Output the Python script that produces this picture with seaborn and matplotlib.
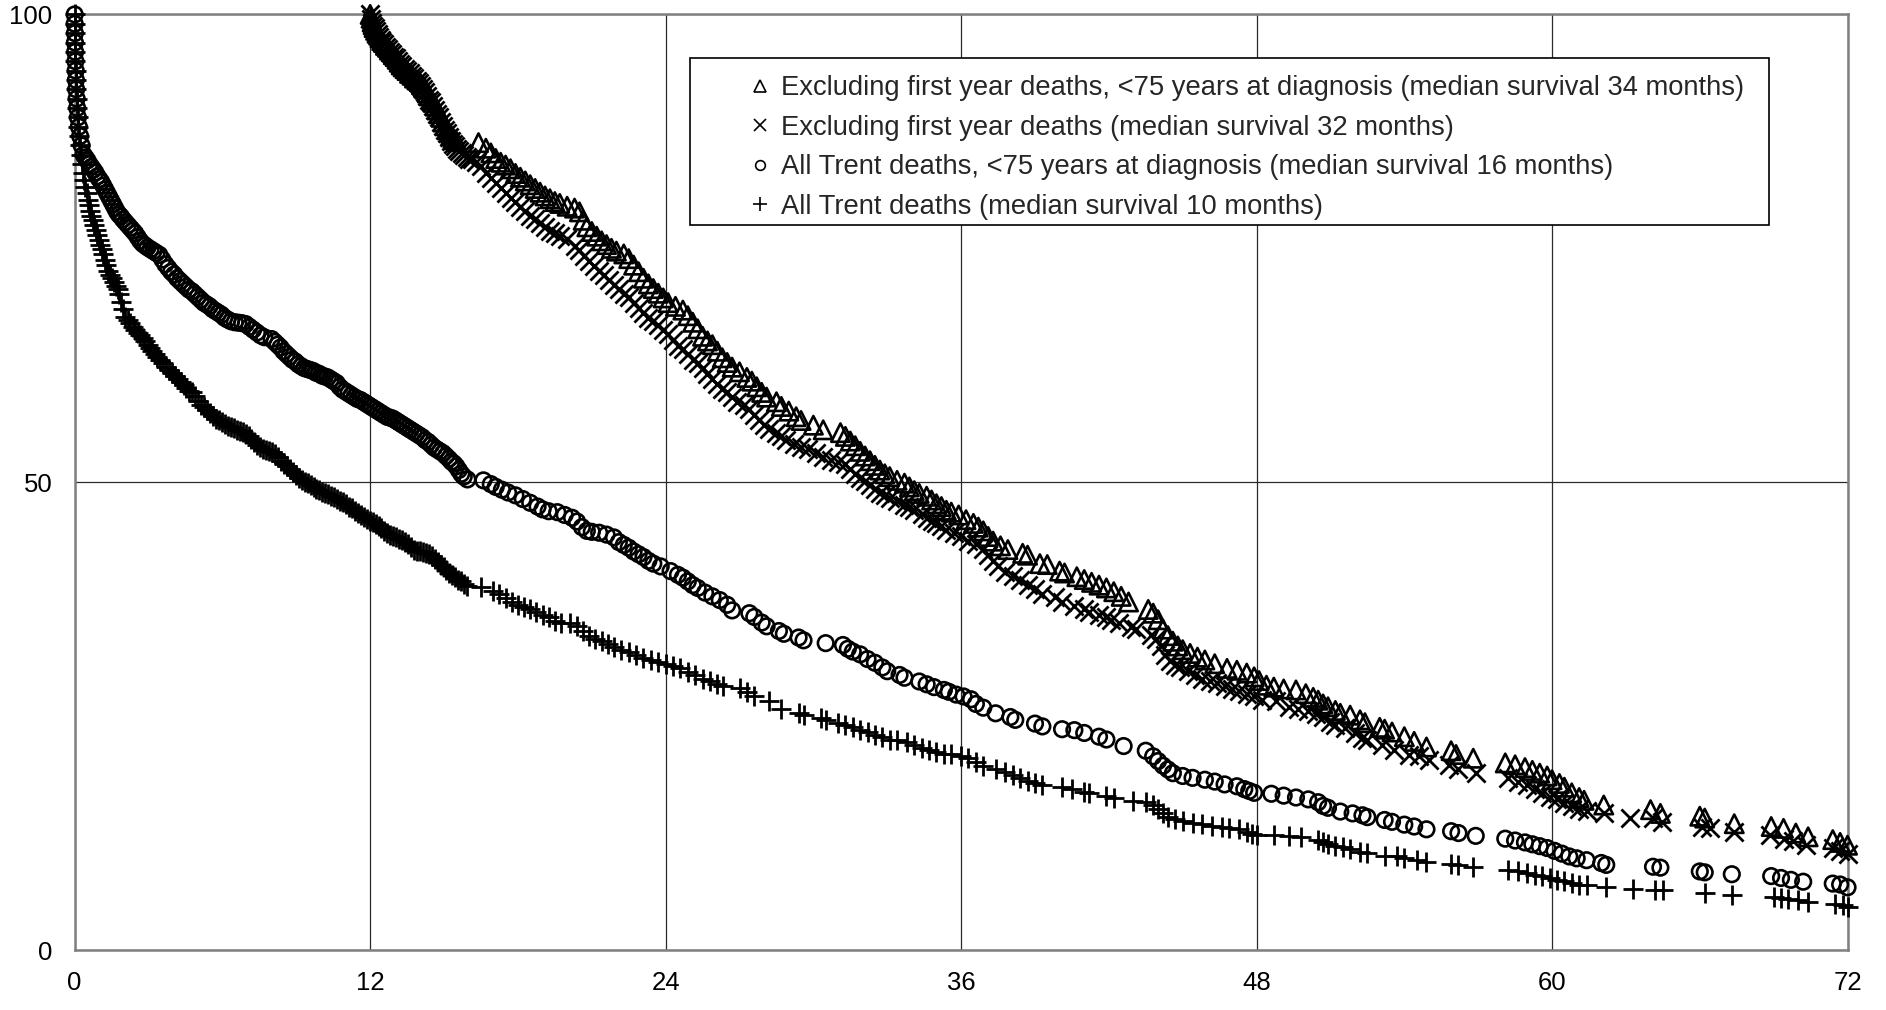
import pandas as pd
import matplotlib
matplotlib.use("Agg")
import matplotlib.pyplot as plt
from matplotlib.lines import Line2D
from matplotlib.patches import Rectangle
import seaborn as sns

# Survival (%) against months since diagnosis
# (month, survival) pairs for each series
tri_pts = [
    (12.00, 100), (12.04, 99.6), (12.08, 99.2), (12.12, 98.9), (12.16, 98.6), (12.22, 98.3),
    (12.28, 98.0), (12.34, 97.8), (12.40, 97.5), (12.47, 97.2), (12.54, 97.0), (12.62, 96.7),
    (12.70, 96.5), (12.78, 96.2), (12.86, 96.0), (12.94, 95.7), (13.02, 95.5), (13.10, 95.2),
    (13.18, 94.9), (13.26, 94.6), (13.34, 94.4), (13.42, 94.2), (13.50, 94.0), (13.60, 93.7),
    (13.70, 93.5), (13.80, 93.2), (13.90, 93.0), (14.00, 92.8), (14.08, 92.5), (14.16, 92.2),
    (14.24, 92.0), (14.32, 91.6), (14.40, 91.3), (14.48, 90.9), (14.56, 90.6), (14.64, 90.2),
    (14.72, 89.8), (14.80, 89.4), (14.88, 89.0), (14.96, 88.5), (15.04, 88.1), (15.12, 87.7),
    (15.20, 87.4), (15.28, 87.1), (15.36, 86.8), (15.44, 86.6), (15.52, 86.4),
    (16.40, 86.3), (16.70, 85.7), (16.90, 85.2), (17.10, 84.6), (17.30, 84.2),
    (17.50, 83.9), (17.70, 83.5), (17.90, 83.0), (18.10, 82.6), (18.30, 82.2), (18.50, 81.8),
    (18.70, 81.4), (18.90, 81.0), (19.10, 80.6), (19.30, 80.3), (19.50, 80.0), (19.70, 79.8),
    (20.00, 79.5), (20.30, 79.3), (20.50, 78.9), (20.65, 78.0), (20.80, 77.3), (21.00, 76.8),
    (21.20, 76.3), (21.40, 75.8), (21.60, 75.4), (21.80, 75.0), (22.00, 74.7), (22.30, 74.4),
    (22.50, 73.9), (22.70, 73.2), (22.90, 72.5), (23.10, 71.8), (23.30, 71.2), (23.50, 70.7),
    (23.70, 70.2), (23.90, 69.7), (24.10, 69.2), (24.40, 68.8), (24.70, 68.4), (24.90, 67.8),
    (25.10, 67.1), (25.30, 66.4), (25.50, 65.6), (25.70, 65.1), (25.90, 64.7), (26.10, 64.0),
    (26.30, 63.3), (26.50, 62.8), (26.70, 62.3), (27.00, 61.8), (27.30, 61.2), (27.50, 60.8),
    (27.70, 60.2), (27.90, 59.6), (28.10, 59.1), (28.50, 58.6), (28.70, 58.1), (29.00, 57.6),
    (29.30, 57.0), (29.50, 56.6), (30.00, 56.1), (30.40, 55.6), (31.10, 55.3), (31.30, 54.9),
    (31.50, 54.4), (31.70, 53.9), (31.90, 53.3), (32.10, 52.8), (32.30, 52.3), (32.50, 51.8),
    (32.70, 51.3), (32.90, 50.9), (33.10, 50.6), (33.40, 50.2), (33.70, 49.9), (33.90, 49.5),
    (34.10, 49.1), (34.30, 48.8), (34.60, 48.5), (34.80, 48.1), (35.00, 47.7), (35.20, 47.4),
    (35.40, 47.0), (35.60, 46.8), (35.90, 46.5), (36.20, 46.0), (36.50, 45.6), (36.70, 45.2),
    (36.90, 44.8), (37.10, 44.2), (37.30, 43.7), (37.60, 43.2), (37.90, 42.8), (38.50, 42.4),
    (38.70, 42.2), (39.20, 41.3), (39.50, 41.2), (40.00, 40.5), (40.20, 40.3), (40.70, 39.9),
    (41.00, 39.6), (41.30, 39.3), (41.60, 39.0), (41.90, 38.7), (42.20, 38.3), (42.50, 37.8),
    (42.80, 37.2), (43.60, 36.4), (43.80, 36.0), (44.00, 35.3), (44.20, 34.3), (44.40, 33.6),
    (44.60, 33.0), (44.80, 32.5), (45.00, 32.1), (45.30, 31.7), (45.60, 31.3), (45.90, 31.0),
    (46.30, 30.6), (46.80, 30.1), (47.20, 29.9), (47.60, 29.6), (47.90, 29.2), (48.10, 28.8),
    (48.40, 28.3), (48.70, 28.1), (49.10, 27.9), (49.60, 27.8), (50.00, 27.4), (50.30, 27.0),
    (50.50, 26.7), (50.70, 26.3), (50.90, 26.0), (51.20, 25.6), (51.40, 25.3), (51.80, 25.1),
    (52.20, 24.6), (52.40, 24.3), (53.00, 23.8), (53.20, 23.6), (53.50, 23.3), (54.00, 22.8),
    (54.40, 22.3), (54.90, 21.7), (55.90, 21.3), (56.10, 20.9), (56.80, 20.5), (58.10, 20.0),
    (58.50, 19.8), (58.90, 19.5), (59.20, 19.2), (59.50, 18.9), (59.80, 18.6), (60.00, 18.2),
    (60.30, 17.8), (60.50, 17.4), (60.80, 16.8), (61.10, 16.3), (61.30, 16.0), (62.10, 15.5),
    (64.00, 15.0), (64.40, 14.6), (66.00, 14.3), (66.20, 14.1), (67.40, 13.5), (68.90, 13.2),
    (69.40, 13.0), (69.90, 12.5), (70.40, 12.1), (71.40, 11.8), (71.70, 11.5), (72.00, 11.2),
]

x_pts = [
    (12.00, 100), (12.04, 99.5), (12.08, 99.1), (12.13, 98.8), (12.18, 98.5), (12.24, 98.2),
    (12.30, 97.9), (12.36, 97.6), (12.43, 97.3), (12.50, 97.1), (12.58, 96.8), (12.66, 96.5),
    (12.74, 96.3), (12.82, 96.0), (12.90, 95.8), (12.98, 95.5), (13.06, 95.3), (13.14, 95.0),
    (13.22, 94.7), (13.30, 94.5), (13.40, 94.2), (13.50, 94.0), (13.60, 93.7), (13.70, 93.4),
    (13.80, 93.2), (13.90, 92.9), (14.00, 92.7), (14.08, 92.4), (14.16, 92.0), (14.24, 91.7),
    (14.32, 91.3), (14.40, 90.9), (14.48, 90.6), (14.56, 90.2), (14.64, 89.8), (14.72, 89.4),
    (14.80, 89.0), (14.88, 88.5), (14.96, 88.1), (15.04, 87.7), (15.12, 87.3), (15.20, 86.9),
    (15.28, 86.5), (15.36, 86.2), (15.44, 85.9), (15.52, 85.6), (15.62, 85.4), (15.72, 85.2),
    (15.82, 85.0), (15.92, 84.8), (16.02, 84.6), (16.12, 84.5), (16.30, 84.2), (16.50, 83.8),
    (16.70, 83.1), (16.90, 82.5), (17.10, 82.0), (17.30, 81.5), (17.50, 80.9), (17.70, 80.4),
    (17.90, 79.9), (18.10, 79.4), (18.30, 79.0), (18.50, 78.5), (18.70, 78.1), (18.90, 77.7),
    (19.10, 77.3), (19.30, 76.9), (19.50, 76.6), (19.70, 76.3), (20.00, 76.0), (20.30, 75.3),
    (20.50, 74.8), (20.70, 74.2), (20.90, 73.6), (21.10, 73.1), (21.30, 72.6), (21.50, 72.1),
    (21.70, 71.6), (21.90, 71.1), (22.10, 70.6), (22.30, 70.1), (22.50, 69.8), (22.70, 69.2),
    (22.90, 68.6), (23.10, 68.1), (23.30, 67.6), (23.50, 67.2), (23.70, 66.8), (23.90, 66.3),
    (24.10, 65.8), (24.30, 65.2), (24.50, 64.6), (24.70, 64.2), (24.90, 63.7), (25.10, 63.1),
    (25.30, 62.7), (25.50, 62.2), (25.70, 61.6), (25.90, 61.0), (26.10, 60.5), (26.30, 60.0),
    (26.50, 59.6), (26.70, 59.1), (26.90, 58.6), (27.20, 58.3), (27.40, 57.8), (27.60, 57.2),
    (27.80, 56.6), (28.00, 56.1), (28.20, 55.7), (28.50, 55.3), (28.70, 54.9), (28.90, 54.5),
    (29.20, 54.1), (29.50, 53.8), (29.80, 53.5), (30.10, 53.1), (30.40, 52.7), (30.70, 52.4),
    (31.00, 52.2), (31.30, 51.9), (31.50, 51.4), (31.70, 50.9), (31.90, 50.5), (32.10, 50.1),
    (32.30, 49.7), (32.50, 49.3), (32.70, 48.9), (32.90, 48.6), (33.10, 48.3), (33.40, 48.0),
    (33.70, 47.6), (33.90, 47.3), (34.10, 47.0), (34.40, 46.6), (34.60, 46.2), (34.80, 45.9),
    (35.00, 45.6), (35.20, 45.3), (35.40, 44.9), (35.70, 44.6), (36.00, 44.2), (36.30, 43.7),
    (36.60, 43.4), (36.90, 42.9), (37.10, 42.2), (37.30, 41.6), (37.50, 41.0), (37.80, 40.4),
    (38.10, 40.0), (38.40, 39.5), (38.70, 39.0), (39.00, 38.6), (39.30, 38.1), (39.80, 37.7),
    (40.10, 37.2), (40.60, 36.8), (41.00, 36.4), (41.20, 36.1), (41.60, 35.8), (41.90, 35.6),
    (42.10, 35.3), (42.40, 35.0), (42.90, 34.5), (43.10, 34.3), (43.70, 33.7), (43.90, 33.2),
    (44.10, 32.5), (44.30, 31.5), (44.50, 30.9), (44.70, 30.5), (44.90, 30.2), (45.20, 29.8),
    (45.50, 29.4), (45.80, 29.0), (46.10, 28.8), (46.40, 28.5), (46.70, 28.2), (47.00, 27.9),
    (47.30, 27.7), (47.60, 27.4), (47.90, 27.1), (48.20, 26.7), (48.80, 26.6), (49.30, 26.0),
    (49.70, 25.8), (50.10, 25.5), (50.40, 25.2), (50.70, 24.9), (51.00, 24.4), (51.20, 24.0),
    (51.60, 23.7), (52.00, 23.2), (52.30, 22.7), (52.50, 22.4), (53.10, 21.9), (53.60, 21.4),
    (54.20, 20.8), (54.60, 20.7), (55.00, 20.3), (55.80, 19.8), (56.20, 19.4), (56.90, 18.9),
    (58.20, 18.35), (58.60, 18.0), (59.00, 17.6), (59.30, 17.2), (59.60, 16.8), (59.90, 16.4),
    (60.20, 16.1), (60.50, 15.7), (60.80, 15.4), (61.10, 15.1), (61.40, 14.9), (62.10, 14.6),
    (63.15, 14.1), (64.10, 14.1), (64.45, 13.7), (66.10, 13.2), (66.40, 13.0), (67.40, 12.65),
    (68.85, 12.3), (69.40, 11.9), (69.80, 11.6), (70.30, 11.2), (71.40, 10.9), (71.70, 10.6),
    (72.00, 10.3),
]

circle_pts = [
    (0.00, 100), (0.00, 99), (0.01, 98), (0.01, 97), (0.02, 96), (0.03, 95), (0.04, 94),
    (0.05, 93), (0.06, 92), (0.08, 91), (0.10, 90), (0.13, 89), (0.17, 88), (0.22, 87),
    (0.28, 86), (0.36, 85), (0.44, 84.7), (0.52, 84.4), (0.60, 84.0), (0.68, 83.7),
    (0.76, 83.4), (0.84, 83.1), (0.92, 82.7), (1.00, 82.4), (1.08, 82.1), (1.16, 81.7),
    (1.24, 81.3), (1.32, 80.9), (1.40, 80.5), (1.48, 80.1), (1.56, 79.7), (1.64, 79.3),
    (1.72, 78.9), (1.80, 78.6), (1.88, 78.4), (1.96, 78.1), (2.06, 77.8), (2.16, 77.5),
    (2.26, 77.2), (2.36, 76.9), (2.46, 76.6), (2.56, 76.2), (2.66, 75.8), (2.76, 75.5),
    (2.86, 75.3), (2.96, 75.1), (3.08, 74.9), (3.20, 74.7), (3.32, 74.5), (3.44, 74.3),
    (3.56, 73.8), (3.68, 73.3), (3.80, 72.9), (3.92, 72.5), (4.04, 72.2), (4.16, 71.8),
    (4.28, 71.5), (4.40, 71.2), (4.52, 70.9), (4.64, 70.6), (4.76, 70.4), (4.88, 70.1),
    (5.00, 69.8), (5.12, 69.5), (5.24, 69.2), (5.36, 69.0), (5.48, 68.8), (5.60, 68.5),
    (5.72, 68.3), (5.84, 68.1), (5.96, 67.9), (6.08, 67.6), (6.20, 67.4), (6.35, 67.2),
    (6.50, 67.1), (6.65, 67.05), (6.80, 67.0), (6.95, 66.9), (7.10, 66.6), (7.25, 66.3),
    (7.40, 66.0), (7.55, 65.7), (7.70, 65.5), (8.00, 65.3), (8.12, 65.0), (8.24, 64.7),
    (8.36, 64.4), (8.48, 64.0), (8.60, 63.7), (8.72, 63.4), (8.84, 63.1), (8.96, 62.9),
    (9.08, 62.6), (9.20, 62.4), (9.32, 62.2), (9.44, 62.1), (9.56, 62.0), (9.68, 61.9),
    (9.80, 61.7), (9.92, 61.6), (10.04, 61.4), (10.16, 61.3), (10.28, 61.2), (10.40, 61.0),
    (10.52, 60.8), (10.64, 60.6), (10.76, 60.2), (10.88, 59.9), (11.00, 59.7), (11.12, 59.5),
    (11.24, 59.3), (11.36, 59.1), (11.48, 58.9), (11.60, 58.8), (11.72, 58.6), (11.84, 58.4),
    (11.96, 58.2), (12.08, 58.0), (12.20, 57.8), (12.32, 57.6), (12.44, 57.4), (12.56, 57.2),
    (12.68, 57.0), (12.80, 56.9), (12.92, 56.8), (13.04, 56.6), (13.16, 56.4), (13.28, 56.2),
    (13.40, 56.0), (13.52, 55.8), (13.64, 55.6), (13.76, 55.4), (13.88, 55.2), (14.00, 55.0),
    (14.12, 54.8), (14.24, 54.5), (14.36, 54.3), (14.48, 54.0), (14.60, 53.7), (14.72, 53.5),
    (14.84, 53.3), (14.96, 53.1), (15.08, 52.8), (15.20, 52.5), (15.30, 52.2), (15.40, 52.0),
    (15.50, 51.7), (15.60, 51.3), (15.70, 50.9), (15.80, 50.6), (15.95, 50.3),
    (16.60, 50.2), (16.90, 49.8),
    (17.10, 49.5), (17.35, 49.2), (17.60, 48.9), (17.90, 48.6), (18.20, 48.2), (18.50, 47.8),
    (18.80, 47.4), (19.00, 47.1), (19.25, 46.9), (19.60, 46.8), (19.90, 46.5), (20.20, 46.2),
    (20.40, 45.8), (20.60, 45.2), (20.80, 44.8), (21.00, 44.7), (21.30, 44.6), (21.60, 44.4),
    (21.90, 44.1), (22.10, 43.6), (22.30, 43.3), (22.50, 43.0), (22.70, 42.6), (22.90, 42.3),
    (23.10, 42.0), (23.30, 41.6), (23.50, 41.3), (23.80, 41.0), (24.20, 40.5), (24.50, 40.1),
    (24.70, 39.8), (24.90, 39.4), (25.10, 39.0), (25.30, 38.7), (25.60, 38.2), (25.90, 37.8),
    (26.20, 37.4), (26.50, 36.9), (26.70, 36.3), (27.40, 36.0), (27.60, 35.6), (27.90, 35.0),
    (28.10, 34.6), (28.60, 34.1), (28.80, 33.8), (29.40, 33.4), (29.60, 33.1), (30.50, 32.8),
    (31.20, 32.6), (31.40, 32.2), (31.60, 31.9), (31.90, 31.6), (32.20, 31.1), (32.50, 30.7),
    (32.80, 30.2), (33.00, 29.8), (33.50, 29.4), (33.70, 29.1), (34.30, 28.7), (34.60, 28.4),
    (34.90, 28.1), (35.30, 27.8), (35.50, 27.6), (35.80, 27.3), (36.10, 27.1), (36.40, 26.8),
    (36.60, 26.3), (36.90, 25.9), (37.40, 25.3), (38.00, 24.9), (38.20, 24.6), (39.00, 24.2),
    (39.30, 23.9), (40.10, 23.6), (40.60, 23.5), (41.00, 23.2), (41.60, 22.8), (41.90, 22.5),
    (42.60, 21.8), (43.50, 21.3), (43.80, 20.7), (44.00, 20.2), (44.20, 19.7), (44.40, 19.3),
    (44.60, 18.9), (45.00, 18.6), (45.40, 18.4), (45.90, 18.2), (46.30, 18.0), (46.70, 17.7),
    (47.20, 17.5), (47.50, 17.2), (47.70, 17.0), (47.90, 16.8), (48.60, 16.7), (49.10, 16.5),
    (49.60, 16.3), (50.10, 16.1), (50.50, 15.8), (50.70, 15.4), (50.90, 15.2), (51.40, 14.8),
    (51.90, 14.6), (52.30, 14.4), (52.50, 14.2), (53.20, 13.9), (53.50, 13.7), (54.00, 13.4),
    (54.40, 13.2), (54.90, 12.9), (55.90, 12.7), (56.20, 12.5), (56.90, 12.2), (58.10, 11.9),
    (58.50, 11.7), (58.90, 11.5), (59.20, 11.3), (59.50, 11.1), (59.80, 10.9), (60.10, 10.6),
    (60.40, 10.3), (60.70, 10.0), (61.00, 9.8), (61.40, 9.6), (62.00, 9.3), (62.20, 9.1),
    (64.10, 8.9), (64.40, 8.8), (66.00, 8.4), (66.20, 8.3), (67.30, 8.1), (68.90, 7.9),
    (69.30, 7.7), (69.70, 7.5), (70.20, 7.3), (71.40, 7.1), (71.70, 7.0), (72.00, 6.7),
]

plus_pts = [
    (0.00, 100), (0.00, 99), (0.01, 98), (0.01, 97), (0.02, 96), (0.03, 95), (0.04, 94),
    (0.05, 93), (0.06, 92), (0.08, 91), (0.10, 90), (0.12, 89), (0.14, 88), (0.17, 87),
    (0.20, 86), (0.24, 85), (0.28, 84), (0.33, 83), (0.38, 82.3), (0.43, 81.6), (0.48, 80.9),
    (0.53, 80.2), (0.58, 79.6), (0.63, 79.0), (0.68, 78.5), (0.74, 78.0), (0.80, 77.5),
    (0.86, 77.0), (0.92, 76.4), (0.98, 75.9), (1.04, 75.4), (1.10, 74.9), (1.16, 74.4),
    (1.22, 73.8), (1.28, 73.2), (1.34, 72.6), (1.42, 72.2), (1.50, 71.8), (1.58, 71.4),
    (1.66, 71.0), (1.74, 70.6), (1.82, 70.1), (1.90, 69.3), (1.98, 68.5), (2.06, 67.7),
    (2.16, 67.3), (2.26, 67.0), (2.36, 66.6), (2.46, 66.3), (2.56, 66.0), (2.66, 65.7),
    (2.76, 65.4), (2.86, 65.1), (2.96, 64.7), (3.06, 64.4), (3.16, 64.0), (3.26, 63.7),
    (3.36, 63.4), (3.46, 63.1), (3.58, 62.7), (3.70, 62.3), (3.82, 62.0), (3.94, 61.7),
    (4.06, 61.4), (4.18, 61.0), (4.30, 60.7), (4.42, 60.4), (4.54, 60.1), (4.66, 59.8),
    (4.78, 59.6), (4.90, 59.2), (5.02, 58.7), (5.14, 58.3), (5.26, 58.0), (5.38, 57.7),
    (5.50, 57.4), (5.62, 57.1), (5.74, 56.8), (5.86, 56.6), (5.98, 56.4), (6.10, 56.2),
    (6.22, 56.0), (6.34, 55.9), (6.46, 55.8), (6.58, 55.6), (6.70, 55.5), (6.82, 55.4),
    (6.94, 55.2), (7.06, 54.9), (7.18, 54.6), (7.30, 54.3), (7.42, 54.0), (7.54, 53.8),
    (7.66, 53.6), (7.78, 53.4), (7.90, 53.3), (8.02, 53.2), (8.14, 53.0), (8.26, 52.7),
    (8.38, 52.3), (8.50, 52.0), (8.62, 51.7), (8.74, 51.4), (8.86, 51.1), (8.98, 50.8),
    (9.10, 50.5), (9.22, 50.2), (9.34, 50.0), (9.46, 49.9), (9.58, 49.7), (9.70, 49.5),
    (9.82, 49.3), (9.94, 49.2), (10.06, 49.0), (10.18, 48.9), (10.30, 48.7), (10.42, 48.5),
    (10.54, 48.4), (10.66, 48.2), (10.78, 48.0), (10.90, 47.9), (11.02, 47.7), (11.14, 47.4),
    (11.26, 47.2), (11.38, 46.9), (11.50, 46.7), (11.62, 46.5), (11.74, 46.3), (11.86, 46.1),
    (11.98, 45.9), (12.10, 45.7), (12.22, 45.5), (12.34, 45.3), (12.46, 45.1), (12.58, 44.8),
    (12.70, 44.6), (12.82, 44.4), (12.94, 44.2), (13.06, 44.1), (13.18, 43.9), (13.30, 43.8),
    (13.42, 43.6), (13.54, 43.4), (13.66, 43.1), (13.78, 42.8), (13.90, 42.6), (14.02, 42.6),
    (14.14, 42.5), (14.26, 42.4), (14.38, 42.3), (14.50, 42.1), (14.62, 41.8), (14.74, 41.5),
    (14.86, 41.2), (14.98, 40.9), (15.10, 40.6), (15.22, 40.3), (15.34, 40.1), (15.46, 39.9),
    (15.58, 39.6), (15.70, 39.4), (15.82, 39.1), (15.95, 38.9),
    (16.50, 38.8), (17.00, 38.4),
    (17.25, 38.0), (17.50, 37.6), (17.75, 37.2), (18.00, 36.9), (18.25, 36.7), (18.50, 36.4),
    (18.75, 36.1), (19.00, 35.8), (19.25, 35.6), (19.50, 35.2), (19.75, 34.9), (20.10, 34.9),
    (20.40, 34.6), (20.65, 34.1), (20.90, 33.6), (21.15, 33.2), (21.40, 33.0), (21.65, 32.7),
    (21.90, 32.4), (22.20, 32.1), (22.50, 31.8), (22.80, 31.5), (23.10, 31.2), (23.40, 31.0),
    (23.70, 30.8), (24.00, 30.6), (24.30, 30.4), (24.60, 30.1), (24.90, 29.7), (25.20, 29.4),
    (25.50, 29.0), (25.80, 28.7), (26.10, 28.4), (26.35, 28.2), (27.00, 28.0), (27.30, 27.6),
    (27.60, 27.2), (28.20, 26.6), (28.70, 25.8), (29.40, 25.3), (29.60, 25.1), (30.30, 24.8),
    (30.50, 24.6), (31.00, 24.3), (31.30, 24.1), (31.60, 23.8), (31.90, 23.5), (32.20, 23.3),
    (32.50, 23.0), (32.80, 22.8), (33.10, 22.5), (33.40, 22.4), (33.80, 22.2), (34.10, 21.9),
    (34.40, 21.6), (34.70, 21.4), (35.00, 21.2), (35.30, 21.0), (35.60, 20.9), (36.00, 20.7),
    (36.30, 20.5), (36.60, 20.1), (36.90, 19.7), (37.40, 19.3), (37.80, 19.0), (38.10, 18.7),
    (38.40, 18.4), (38.70, 18.1), (39.00, 17.8), (39.30, 17.6), (40.10, 17.4), (40.50, 17.2),
    (41.00, 16.9), (41.20, 16.8), (41.90, 16.5), (42.20, 16.3), (43.00, 15.9), (43.50, 15.8),
    (43.80, 15.5), (44.00, 15.1), (44.20, 14.6), (44.40, 14.2), (44.70, 14.0), (45.00, 13.8),
    (45.40, 13.6), (45.80, 13.5), (46.20, 13.3), (46.60, 13.1), (46.90, 13.0), (47.30, 12.9),
    (47.60, 12.6), (47.80, 12.4), (48.00, 12.3), (48.70, 12.3), (49.30, 12.2), (49.80, 12.1),
    (50.50, 11.8), (50.70, 11.5), (50.90, 11.3), (51.20, 11.1), (51.50, 11.0), (51.80, 10.8),
    (52.20, 10.5), (52.50, 10.4), (53.20, 10.1), (53.70, 10.0), (54.00, 9.8), (54.50, 9.6),
    (54.90, 9.4), (55.90, 9.2), (56.20, 9.1), (56.80, 8.9), (58.20, 8.6), (58.60, 8.4),
    (59.00, 8.2), (59.30, 8.0), (59.60, 7.9), (59.90, 7.7), (60.20, 7.5), (60.50, 7.4),
    (60.80, 7.2), (61.10, 7.0), (61.40, 6.9), (62.20, 6.7), (63.30, 6.5), (64.20, 6.4),
    (64.50, 6.4), (66.20, 6.1), (67.30, 5.9), (69.00, 5.7), (69.30, 5.6), (69.60, 5.4),
    (70.00, 5.3), (70.40, 5.1), (71.50, 4.9), (71.80, 4.8), (72.00, 4.6),
]

labels = [
    "Excluding first year deaths, <75 years at diagnosis (median survival 34 months)",
    "Excluding first year deaths (median survival 32 months)",
    "All Trent deaths, <75 years at diagnosis (median survival 16 months)",
    "All Trent deaths (median survival 10 months)",
]
x_ticks = [0, 12, 24, 36, 48, 60, 72]
y_ticks = [0, 50, 100]

sns.set_style("white")
plt.rcParams["font.family"] = ["Liberation Sans", "DejaVu Sans"]

fig = plt.figure(figsize=(18.86, 10.10), dpi=100)
ax = fig.add_axes([0.0396, 0.0594, 0.9400, 0.9263])

# marker look for each series: (points, marker, size, outlined marker?)
series = [
    (tri_pts, "^", 175, True),
    (x_pts, "x", 170, False),
    (circle_pts, "o", 125, True),
    (plus_pts, "+", 200, False),
]

for (pts, mk, size, outline), lab in zip(series, labels):
    df = pd.DataFrame(pts, columns=["month", "survival"])
    if outline:
        sns.scatterplot(data=df, x="month", y="survival", marker=mk, s=size,
                        color="black", facecolor="none", edgecolor="black",
                        linewidth=1.9, ax=ax, clip_on=False, zorder=3)
    else:
        sns.scatterplot(data=df, x="month", y="survival", marker=mk, s=size,
                        color="black", linewidth=2.0, ax=ax, clip_on=False, zorder=3)

ax.set_xlim(0, 72)
ax.set_ylim(0, 100)
ax.set_xticks(x_ticks)
ax.set_yticks(y_ticks)
ax.set_xlabel("")
ax.set_ylabel("")
ax.set_axisbelow(True)
ax.grid(True, color="#2a2a2a", linewidth=0.9)
for sp in ax.spines.values():
    sp.set_color("#808080")
    sp.set_linewidth(1.8)
ax.tick_params(axis="both", direction="out", length=6, width=1, color="#505050",
               labelsize=18.5, labelcolor="black")
ax.tick_params(axis="x", pad=9)
ax.tick_params(axis="y", pad=10)

# legend box
box = Rectangle((0.3661, 0.7772), 0.5721, 0.1656, transform=fig.transFigure,
                facecolor="white", edgecolor="black", linewidth=1.2, zorder=4)
ax.add_patch(box)

handles = [
    Line2D([], [], linestyle="none", marker="^", markersize=8.5, markerfacecolor="none",
           markeredgecolor="black", markeredgewidth=1.2),
    Line2D([], [], linestyle="none", marker="x", markersize=8.5, color="black",
           markeredgewidth=1.2),
    Line2D([], [], linestyle="none", marker="o", markersize=7, markerfacecolor="none",
           markeredgecolor="black", markeredgewidth=1.2),
    Line2D([], [], linestyle="none", marker="+", markersize=10, color="black",
           markeredgewidth=1.2),
]
leg = ax.legend(handles, labels, loc="upper left", bbox_to_anchor=(0.3965, 0.9254),
                bbox_transform=fig.transFigure, frameon=False, fontsize=19.7,
                handlelength=0.9, handletextpad=0.3, labelspacing=0.49, borderpad=0,
                borderaxespad=0)
leg.set_zorder(5)

fig.savefig("out.png", dpi=100)
